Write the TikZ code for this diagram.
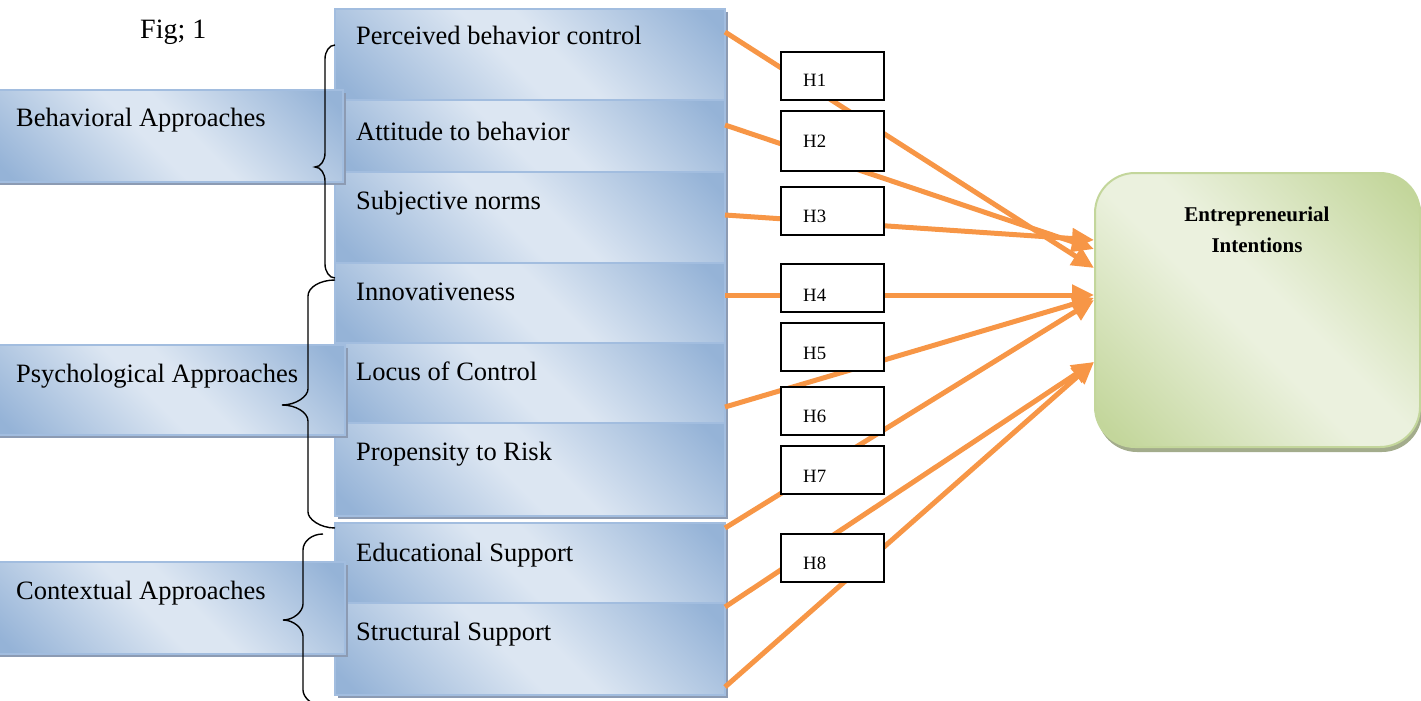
\documentclass[tikz,border=0pt]{standalone}
\usepackage{fontspec}
\setmainfont{Liberation Serif}
\usetikzlibrary{arrows.meta,shadows}

\definecolor{bdark}{HTML}{95B3D7}
\definecolor{blight}{HTML}{DCE6F2}
\definecolor{gdark}{HTML}{C3D69B}
\definecolor{glight}{HTML}{EBF1DE}
\definecolor{orng}{HTML}{F79646}
\definecolor{bborder}{HTML}{A2BDDF}
\definecolor{bshadow}{HTML}{8C9BB3}
\definecolor{gshadow}{HTML}{A3AC8C}
\definecolor{gborder}{HTML}{C3D69B}

\pgfdeclarehorizontalshading{bluediag}{100bp}{color(0bp)=(bdark); color(18bp)=(bdark); color(46bp)=(blight); color(54bp)=(blight); color(82bp)=(bdark); color(100bp)=(bdark)}
\pgfdeclarehorizontalshading{greendiag}{100bp}{color(0bp)=(gdark); color(18bp)=(gdark); color(46bp)=(glight); color(54bp)=(glight); color(82bp)=(gdark); color(100bp)=(gdark)}

\tikzset{
  bluebox/.style={draw=bborder, line width=1.2pt, shading=bluediag, shading angle=45,
    inner sep=0pt, outer sep=0pt, anchor=north west,
    drop shadow={shadow xshift=3pt, shadow yshift=-3pt, fill=bshadow, opacity=1}},
  mbox/.style={bluebox, minimum width=390pt},
  bigtext/.style={font=\fontsize{26.5}{30}\selectfont, inner sep=0pt, anchor=base west},
  hbox/.style={draw=black, line width=1.5pt, fill=white, minimum width=103pt, minimum height=48pt,
    inner sep=0pt, outer sep=0pt, anchor=north west},
  htext/.style={font=\fontsize{18.8}{22}\selectfont, inner sep=0pt, anchor=base west},
  link/.style={draw=orng, line width=5pt, -{Triangle[length=22pt,width=20pt]}},
  bracestyle/.style={draw=black, line width=1.4pt},
}

\begin{document}
\begin{tikzpicture}[x=1pt,y=-1pt]
\useasboundingbox (0,0) rectangle (1421,701);
\clip (0,0) rectangle (1421,701);

% title
\node[font=\fontsize{28}{32}\selectfont, inner sep=0pt, anchor=base west] (fig) at (140,39) {Fig; 1};

% middle boxes
\node[mbox, minimum height=91pt] (pbc) at (335,9) {};
\node[mbox, minimum height=72pt] (atb) at (335,100) {};
\node[mbox, minimum height=91pt] (sn)  at (335,172) {};
\node[mbox, minimum height=80pt] (inn) at (335,263) {};
\node[mbox, minimum height=80pt] (loc) at (335,343) {};
\node[mbox, minimum height=93pt] (pr)  at (335,423) {};
\node[mbox, minimum height=80pt] (edu) at (335,523) {};
\node[mbox, minimum height=92pt] (str) at (335,603) {};

\node[bigtext] (pbc-t) at (356,45)  {Perceived behavior control};
\node[bigtext] (atb-t) at (356,140) {Attitude to behavior};
\node[bigtext] (sn-t)  at (356,209) {Subjective norms};
\node[bigtext] (inn-t) at (356,300) {Innovativeness};
\node[bigtext] (loc-t) at (356,380) {Locus of Control};
\node[bigtext] (pr-t)  at (356,460) {Propensity to Risk};
\node[bigtext] (edu-t) at (356,561) {Educational Support};
\node[bigtext] (str-t) at (356,640) {Structural Support};

% left group boxes
\node[bluebox, minimum width=349pt, minimum height=92pt] (beh) at (-6,90) {};
\node[bluebox, minimum width=351pt, minimum height=90pt] (psy) at (-6,345) {};
\node[bluebox, minimum width=351pt, minimum height=92pt] (ctx) at (-6,562) {};
\node[bigtext] (beh-t) at (16,126) {Behavioral Approaches};
\node[bigtext] (psy-t) at (16,382) {Psychological Approaches};
\node[bigtext] (ctx-t) at (16,599) {Contextual Approaches};

% braces
\draw[bracestyle] (335,45) .. controls (329.5,45) and (325,51.3) .. (325,59) -- (325,153)
  .. controls (325,160.7) and (320.5,167) .. (315,167)
  .. controls (320.5,167) and (325,173.3) .. (325,181) -- (325,264)
  .. controls (325,271.7) and (329.5,278) .. (335,278);
\draw[bracestyle] (335,280) .. controls (320.2,280) and (308,287.2) .. (308,296) -- (308,389)
  .. controls (308,396.2) and (296.3,405) .. (282,405)
  .. controls (296.3,405) and (308,412.8) .. (308,421) -- (308,512)
  .. controls (308,519.2) and (320.2,528) .. (335,528);
\draw[bracestyle] (323,534) .. controls (312,534) and (303,541.2) .. (303,550) -- (303,604)
  .. controls (303,611.2) and (294,620) .. (283,620)
  .. controls (294,620) and (303,628.8) .. (303,636) -- (303,690)
  .. controls (303,697.2) and (312,706) .. (323,706);

% target
\node[draw=gborder, line width=2pt, rounded corners=40pt, shading=greendiag, shading angle=45,
  minimum width=325pt, minimum height=274pt, inner sep=0pt, outer sep=0pt, anchor=north west,
  drop shadow={shadow xshift=2pt, shadow yshift=-5pt, fill=gshadow, opacity=1}] (ei) at (1095,173) {};
\node[font=\bfseries\fontsize{21}{31}\selectfont, align=center, inner sep=0pt, anchor=north]
  (ei-t) at (1257,207) {Entrepreneurial\\Intentions};

% connector endpoints
\coordinate (s1) at (725,32);
\coordinate (s2) at (725,125);
\coordinate (s3) at (725,215);
\coordinate (s4) at (725,295);
\coordinate (s5) at (725,407);
\coordinate (s6) at (725,528);
\coordinate (s7) at (725,607);
\coordinate (s8) at (725,687);
\coordinate (t1) at (1094,268);
\coordinate (t2) at (1094,249);
\coordinate (t3) at (1094,240);
\coordinate (t4) at (1094,295);
\coordinate (t5) at (1094,298);
\coordinate (t6) at (1094,300);
\coordinate (t7) at (1094,362);
\coordinate (t8) at (1094,362);

\draw[link] (s1) -- (t1);
\draw[link] (s2) -- (t2);
\draw[link] (s3) -- (t3);
\draw[link] (s4) -- (t4);
\draw[link] (s5) -- (t5);
\draw[link] (s6) -- (t6);
\draw[link] (s7) -- (t7);
\draw[link] (s8) -- (t8);

% hypothesis boxes
\node[hbox] (h1) at (781,52) {};
\node[hbox, minimum height=60pt] (h2) at (781,111) {};
\node[hbox] (h3) at (781,187) {};
\node[hbox] (h4) at (781,264) {};
\node[hbox] (h5) at (781,323) {};
\node[hbox] (h6) at (781,387) {};
\node[hbox] (h7) at (781,446) {};
\node[hbox] (h8) at (781,534) {};
\node[htext] (h1-t) at (803,86)  {H1};
\node[htext] (h2-t) at (803,147) {H2};
\node[htext] (h3-t) at (803,222) {H3};
\node[htext] (h4-t) at (803,301) {H4};
\node[htext] (h5-t) at (803,359) {H5};
\node[htext] (h6-t) at (803,422) {H6};
\node[htext] (h7-t) at (803,482) {H7};
\node[htext] (h8-t) at (803,569) {H8};
\end{tikzpicture}
\end{document}
